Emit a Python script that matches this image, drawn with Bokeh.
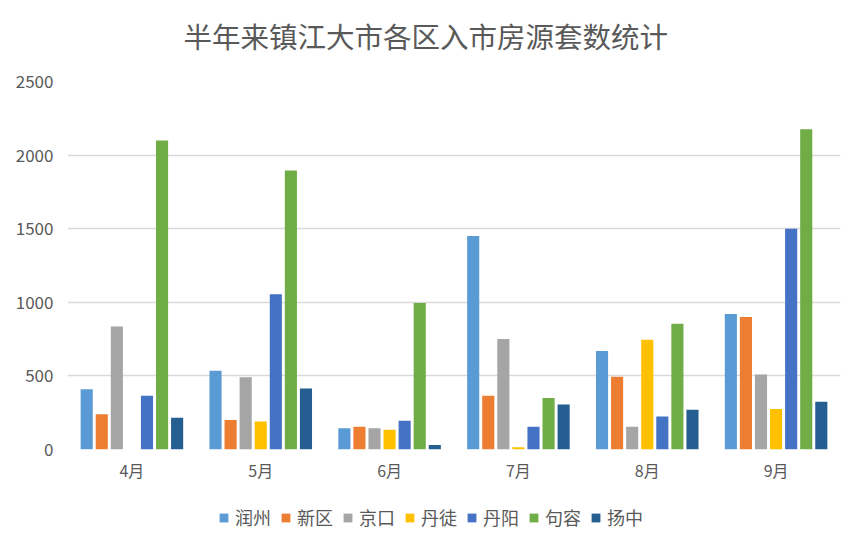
from bokeh.plotting import figure
from bokeh.layouts import column
from bokeh.models import (FactorRange, Range1d, FixedTicker, Legend, LegendItem, ColumnDataSource, Label)
from bokeh.transform import dodge
from bokeh.embed import file_html
from bokeh.resources import INLINE

title = "半年来镇江大市各区入市房源套数统计"
months = ["4月", "5月", "6月", "7月", "8月", "9月"]
districts = ["润州", "新区", "京口", "丹徒", "丹阳", "句容", "扬中"]
runzhou = [410, 535, 145, 1450, 670, 920]
xinqu = [240, 200, 155, 365, 495, 900]
jingkou = [835, 490, 145, 750, 155, 510]
dantu = [0, 190, 135, 15, 745, 275]
danyang = [365, 1055, 195, 155, 225, 1500]
jurong = [2100, 1895, 995, 350, 855, 2175]
yangzhong = [215, 415, 30, 305, 270, 325]
y_ticks = [0, 500, 1000, 1500, 2000, 2500]
colors = ["#5B9BD5", "#ED7D31", "#A5A5A5", "#FFC000", "#4472C4", "#70AD47", "#255E91"]

series = [runzhou, xinqu, jingkou, dantu, danyang, jurong, yangzhong]
data = {"month": months}
for name, vals in zip(districts, series):
    data[name] = vals
source = ColumnDataSource(data)

FONT = "Noto Sans CJK SC"
GRAY = "#595959"

# title strip
tf = figure(width=849, height=65, x_range=Range1d(0, 1), y_range=Range1d(0, 1),
            output_backend="svg", toolbar_location=None,
            x_axis_location=None, y_axis_location=None,
            min_border_left=0, min_border_right=0, min_border_top=0, min_border_bottom=0)
tf.outline_line_color = None
tf.xgrid.grid_line_color = None
tf.ygrid.grid_line_color = None
tf.add_layout(Label(x=116, y=30, x_units="screen", y_units="screen", text=title,
                    text_font=FONT, text_font_size="28.5px", text_color=GRAY,
                    text_align="left", text_baseline="middle"))

# main chart
p = figure(width=849, height=425, x_range=FactorRange(*months), y_range=Range1d(0, 2500),
           output_backend="svg", toolbar_location=None,
           min_border_left=67, min_border_right=9, min_border_top=16, min_border_bottom=41)
p.outline_line_color = None
p.background_fill_color = "white"
p.border_fill_color = "white"

step = 0.117
width = 0.094
for i, (name, col) in enumerate(zip(districts, colors)):
    p.vbar(x=dodge("month", (i - 3) * step, range=p.x_range), top=name, width=width,
           source=source, fill_color=col, line_color=None)

p.xgrid.grid_line_color = None
p.ygrid.grid_line_color = "#D9D9D9"
p.ygrid.grid_line_width = 1.3
p.yaxis.ticker = FixedTicker(ticks=y_ticks)
for ax in (p.xaxis[0], p.yaxis[0]):
    ax.axis_line_color = None
    ax.major_tick_line_color = None
    ax.minor_tick_line_color = None
    ax.major_tick_out = 0
    ax.major_tick_in = 0
    ax.major_label_text_color = GRAY
    ax.major_label_text_font = FONT
p.yaxis.major_label_text_font_size = "17px"
p.xaxis.major_label_text_font_size = "16px"
p.yaxis.major_label_standoff = 14
p.xaxis.major_label_standoff = 8

# legend strip: swatches come from the same bars, which fall outside this strip's range
lf = figure(width=849, height=43, x_range=p.x_range, y_range=Range1d(5000, 6000),
            output_backend="svg", toolbar_location=None,
            x_axis_location=None, y_axis_location=None,
            min_border_left=0, min_border_right=0, min_border_top=0, min_border_bottom=0)
lf.outline_line_color = None
lf.xgrid.grid_line_color = None
lf.ygrid.grid_line_color = None
items = []
for i, (name, col) in enumerate(zip(districts, colors)):
    r = lf.vbar(x=dodge("month", (i - 3) * step, range=p.x_range), top=name, width=width,
                source=source, fill_color=col, line_color=None)
    items.append(LegendItem(label=name, renderers=[r]))
legend = Legend(items=items, location=(151, 3), orientation="horizontal",
                label_text_font=FONT, label_text_font_size="18px", label_text_color=GRAY,
                glyph_width=11, glyph_height=11, label_standoff=6, spacing=9,
                padding=0, margin=0, border_line_color=None, background_fill_alpha=0)
lf.add_layout(legend, "center")

open("out.html", "w").write(file_html(column(tf, p, lf, spacing=0), INLINE))
